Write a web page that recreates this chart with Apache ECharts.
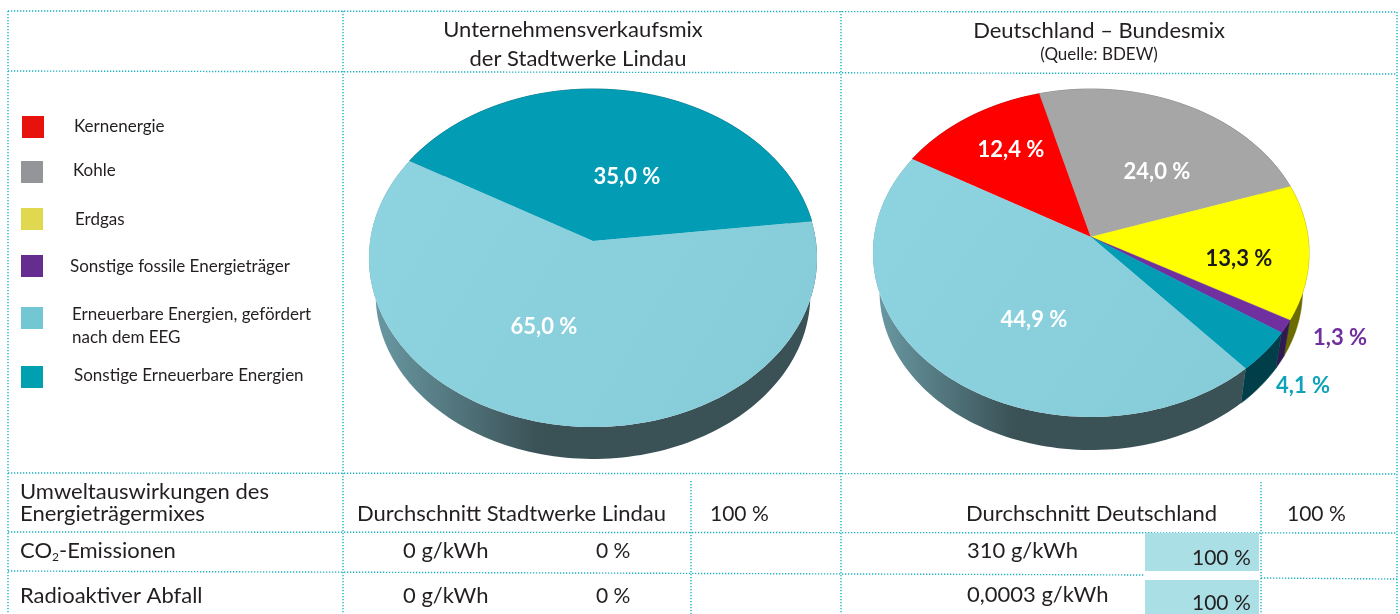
<!DOCTYPE html>
<html>
<head>
<meta charset="utf-8">
<title>Stromkennzeichnung</title>
<script src="https://cdn.jsdelivr.net/npm/echarts@6/dist/echarts.min.js"></script>
<style>
    html, body { margin: 0; padding: 0; background: #fff; }
    #chart { width: 1400px; height: 614px; }
</style>
</head>
<body>
<div id="chart"></div>
<script>
// Legende
const legendNames = ['Kernenergie', 'Kohle', 'Erdgas', 'Sonstige fossile Energieträger',
    'Erneuerbare Energien, gefördert\nnach dem EEG', 'Sonstige Erneuerbare Energien'];

// Stadtwerke Lindau: the slices are drawn wider than the printed numbers say,
// so the shares are read off the picture and the labels stay as printed
const lindauShares = [39.7, 60.3];
const lindauLabels = ['35,0 %', '65,0 %'];

// Bundesmix
const bundValues = [12.4, 24.0, 13.3, 1.3, 4.1, 44.9];
const bundLabels = ['12,4 %', '24,0 %', '13,3 %', '1,3 %', '4,1 %', '44,9 %'];

// Tabelle unten
const rowNames = ['CO2-Emissionen', 'Radioaktiver Abfall'];
const lindauAmounts = ['0 g/kWh', '0 g/kWh'];
const lindauPercents = ['0 %', '0 %'];
const bundAmounts = ['310 g/kWh', '0,0003 g/kWh'];
const bundPercents = ['100 %', '100 %'];

const FONT = 'Lato';
const TEAL = '#029cb4';
const DARK_WALL = new echarts.graphic.LinearGradient(0, 0, 1, 0, [
    {offset: 0, color: '#6b9ba5'}, {offset: 0.38, color: '#3a5156'}, {offset: 1, color: '#3a5156'}
]);

// perspective of the two discs
const pieLindau = {cx: 593, apexY: 241, a: 167.3, b: 222.9, k: 0.1006, drop: 37, shrink: 0.97, start: 300.2};
const pieBund = {cx: 1091, apexY: 237, a: 162.4, b: 217, k: 0.0976, drop: 38, shrink: 0.97, start: 300.3};

function rim(pie, deg) {
    let rad = deg * Math.PI / 180;
    let u = Math.sin(rad), v = -Math.cos(rad), w = 1 - pie.k * v;
    return [pie.cx + pie.b * u / w, pie.apexY + pie.a * v / w];
}
function lowerRim(pie, deg) {
    let p = rim(pie, deg);
    let midY = pie.apexY + pie.a * pie.k / (1 - pie.k * pie.k);
    return [pie.cx + (p[0] - pie.cx) * pie.shrink, midY + (p[1] - midY) * pie.shrink + pie.drop];
}
function arc(pie, from, to, fn) {
    let pts = [], n = Math.max(2, Math.ceil((to - from) / 1.5));
    for (let i = 0; i <= n; i++) pts.push(fn(pie, from + (to - from) * i / n));
    return pts;
}
function slices(values, pie) {
    let total = values.reduce((a, b) => a + b, 0), at = pie.start;
    return values.map(val => {
        let from = at;
        at += val / total * 360;
        return [val, from, at];
    });
}
function wallSeries(values, pie, colors) {
    return {
        type: 'custom', coordinateSystem: 'none', z: 2, silent: true,
        data: slices(values, pie),
        renderItem: (params, api) => {
            let from = api.value(1), to = api.value(2);
            let pts = arc(pie, from, to, rim).concat(arc(pie, from, to, lowerRim).reverse());
            let c = colors[params.dataIndex];
            return {type: 'polygon', shape: {points: pts}, style: {fill: c, stroke: typeof c === 'string' ? c : null, lineWidth: 0.5}};
        }
    };
}
function topSeries(values, pie, colors) {
    return {
        type: 'custom', coordinateSystem: 'none', z: 3, silent: true,
        data: slices(values, pie),
        renderItem: (params, api) => {
            let pts = arc(pie, api.value(1), api.value(2), rim);
            pts.unshift([pie.cx, pie.apexY]);
            let c = colors[params.dataIndex];
            return {type: 'polygon', shape: {points: pts}, style: {fill: c, stroke: typeof c === 'string' ? c : null, lineWidth: 0.5}};
        }
    };
}

const lightTop = new echarts.graphic.LinearGradient(0, 0, 1, 1, [
    {offset: 0, color: '#8ed3e0'}, {offset: 1, color: '#85cbd8'}
]);

// --- Beschriftung ---
function txt(text, x, y, size, extra) {
    return {
        type: 'text', z: 10, x: x, y: y, silent: true,
        style: Object.assign({text: text, font: size + 'px ' + FONT, fill: '#231f20', textAlign: 'left', textVerticalAlign: 'middle'}, extra || {})
    };
}
function bold(text, x, y, color) {
    return txt(text, x, y, 22, {font: 'bold 22px ' + FONT, fill: color, textAlign: 'center'});
}
function dotted(x1, y1, x2, y2) {
    return {
        type: 'line', z: 1, silent: true, shape: {x1: x1, y1: y1, x2: x2, y2: y2},
        style: {stroke: '#1cb2c0', lineWidth: 1.4, lineDash: [1.3, 1.7]}
    };
}

const legendColors = ['#e8120c', '#939598', '#e0d950', '#662d91', '#72c7d2', '#00a0b0'];
const legendBoxY = [116, 161, 208, 255, 307, 366];
const legendBoxX = [22, 21, 21, 21, 21, 21];
const legendTextX = [74, 73, 75, 70, 72, 74];
const legendTextY = [127, 171, 220, 267, 326, 376];

let elements = [
    dotted(8, 11, 1397, 12), dotted(8, 71, 1397, 74), dotted(8, 473, 1397, 474),
    dotted(8, 532, 1397, 533), dotted(8, 571, 1145, 575), dotted(1261, 578, 1397, 579),
    dotted(8, 11, 8, 614), dotted(343, 11, 343, 614), dotted(841, 11, 841, 614),
    dotted(1397, 12, 1397, 614), dotted(691, 481, 691, 614), dotted(1261, 482, 1261, 614),

    txt('Unternehmensverkaufsmix', 573, 30, 22, {textAlign: 'center'}),
    txt('der Stadtwerke Lindau', 578, 59, 22, {textAlign: 'center'}),
    txt('Deutschland – Bundesmix', 1099, 31, 22, {textAlign: 'center'}),
    txt('(Quelle: BDEW)', 1099, 55, 17, {textAlign: 'center'}),

    txt('Umweltauswirkungen des', 20, 492, 22),
    txt('Energieträgermixes', 20, 514, 22),
    txt('Durchschnitt Stadtwerke Lindau', 357, 514, 22),
    txt('100 %', 710, 514, 21),
    txt('Durchschnitt Deutschland', 966, 514, 22),
    txt('100 %', 1287, 514, 21)
];

legendNames.forEach((name, i) => {
    elements.push({
        type: 'rect', z: 5, silent: true,
        shape: {x: legendBoxX[i], y: legendBoxY[i], width: 22, height: 22},
        style: {fill: legendColors[i]}
    });
    elements.push(txt(name, legendTextX[i], legendTextY[i], 17, {lineHeight: 23}));
});

const rowY = [551, 596];
const amountY = [551, 595];
const percentY = [558, 603];
const boxY = [[533, 38], [580, 34]];
rowNames.forEach((name, i) => {
    let shown = name.indexOf('CO2') === 0 ? '{n|CO}{s|2}{n|-Emissionen}' : name;
    elements.push(txt(shown, 20, rowY[i], 22, {
        rich: {
            n: {font: '22px ' + FONT, fill: '#231f20'},
            s: {font: '12px ' + FONT, fill: '#231f20', padding: [12, 0, 0, 0]}
        }
    }));
    elements.push(txt(lindauAmounts[i], 403, rowY[i], 22));
    elements.push(txt(lindauPercents[i], 596, rowY[i], 21));
    elements.push(txt(bundAmounts[i], 967, amountY[i], 22));
    elements.push({
        type: 'rect', z: 1, silent: true,
        shape: {x: 1145, y: boxY[i][0], width: 114, height: boxY[i][1]},
        style: {fill: '#aadfe6'}
    });
    elements.push(txt(bundPercents[i], 1192, percentY[i], 21));
});

// Prozentangaben an den Kreisen
const lindauLabelPos = [[627, 177], [544, 327]];
const bundLabelPos = [[1011, 150], [1157, 172], [1239, 259], [1340, 338], [1303, 386], [1034, 320]];
const bundLabelColors = ['#fff', '#fff', '#1a1a1a', '#7030a0', '#0ea3b8', '#fff'];
lindauLabels.forEach((t, i) => elements.push(bold(t, lindauLabelPos[i][0], lindauLabelPos[i][1], '#fff')));
bundLabels.forEach((t, i) => elements.push(bold(t, bundLabelPos[i][0], bundLabelPos[i][1], bundLabelColors[i])));

let myChart = echarts.init(document.getElementById('chart'));
myChart.setOption({
    animation: false,
    backgroundColor: '#fff',
    graphic: {elements: elements},
    series: [
        wallSeries(lindauShares, pieLindau, ['#00404d', DARK_WALL]),
        topSeries(lindauShares, pieLindau, [TEAL, lightTop]),
        wallSeries(bundValues, pieBund, ['#7f0000', '#555', '#6b6b00', '#2e1a4f', '#003f4a', DARK_WALL]),
        topSeries(bundValues, pieBund, ['#ff0000', '#a6a6a6', '#ffff00', '#7030a0', TEAL, lightTop])
    ]
});
</script>
</body>
</html>
